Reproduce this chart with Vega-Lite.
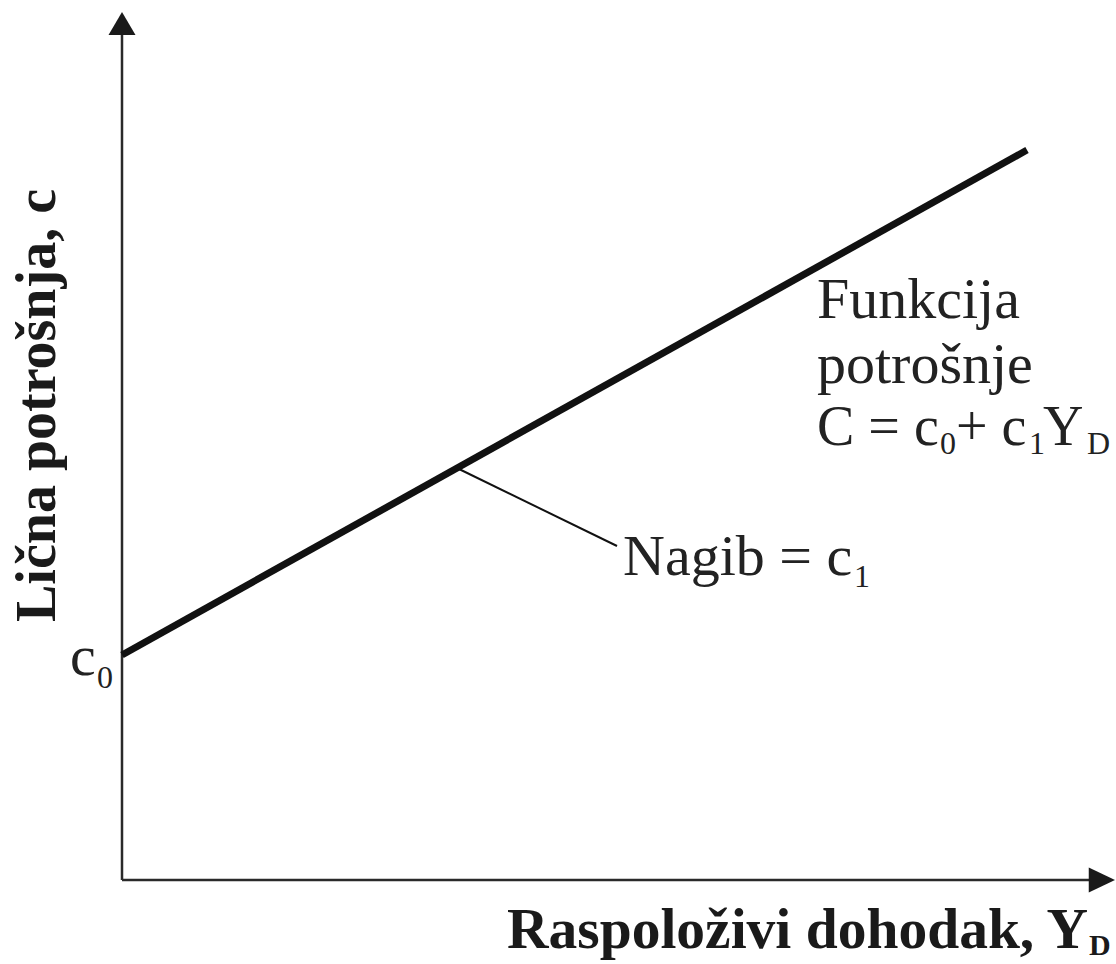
{
  "$schema": "https://vega.github.io/schema/vega-lite/v6.json",
  "width": 1116,
  "height": 964,
  "autosize": {"type": "none"},
  "padding": 0,
  "background": "white",
  "view": {"stroke": null},
  "config": {"font": "Times New Roman"},
  "datasets": {
    "axes": [
      {"axis": "vertical", "x": 0, "y": 0, "x2": 0, "y2": 84.5},
      {"axis": "horizontal", "x": 0, "y": 0, "x2": 96.8, "y2": 0}
    ],
    "arrowUp": [{"x": 0, "y": 86.8}],
    "arrowRight": [{"x": 99.3, "y": 0}],
    "consumption": [
      {"x": 0, "y": 22.5},
      {"x": 90.5, "y": 73.0}
    ],
    "leader": [{"x": 33.7, "y": 41.1, "x2": 49.5, "y2": 33.4}],
    "labels": [
      {"label": "Funkcija", "x": 69.5, "y": 56.2},
      {"label": "potrošnje", "x": 69.5, "y": 49.7},
      {"label": "Nagib = c", "x": 50.1, "y": 30.5},
      {"label": "c", "x": -5.2, "y": 20.5}
    ],
    "formula": [
      {"label": "C = c", "x": 69.5, "y": 43.5},
      {"label": "+ c", "x": 83.4, "y": 43.5},
      {"label": "Y", "x": 92.1, "y": 43.5}
    ],
    "subs": [
      {"label": "0", "x": 81.8, "y": 42.6},
      {"label": "1", "x": 90.7, "y": 42.6},
      {"label": "D", "x": 96.5, "y": 42.6},
      {"label": "1", "x": 73.2, "y": 29.3},
      {"label": "0", "x": -2.5, "y": 19.2}
    ],
    "xtitle": [{"label": "Raspoloživi dohodak, Y", "x": 38.5, "y": -6.8}],
    "xtitleSub": [{"label": "D", "x": 96.7, "y": -7.5}],
    "ytitle": [{"label": "Lična potrošnja, c", "x": -6.7, "y": 25.8}]
  },
  "layer": [
    {
      "data": {"name": "axes"},
      "mark": {"type": "rule", "color": "#2a2a2a", "strokeWidth": 2.5},
      "encoding": {
        "x": {"field": "x", "type": "quantitative", "scale": {"domain": [-12.2, 99.4], "nice": false, "zero": false}, "axis": null},
        "y": {"field": "y", "type": "quantitative", "scale": {"domain": [-8.4, 88], "nice": false, "zero": false}, "axis": null},
        "x2": {"field": "x2"},
        "y2": {"field": "y2"}
      }
    },
    {
      "data": {"name": "arrowUp"},
      "mark": {"type": "point", "shape": "M0,0 L-1,1.7 L1,1.7 Z", "size": 729, "filled": true, "opacity": 1, "color": "#1a1a1a", "strokeWidth": 0},
      "encoding": {
        "x": {"field": "x", "type": "quantitative", "scale": {"domain": [-12.2, 99.4], "nice": false, "zero": false}, "axis": null},
        "y": {"field": "y", "type": "quantitative", "scale": {"domain": [-8.4, 88], "nice": false, "zero": false}, "axis": null}
      }
    },
    {
      "data": {"name": "arrowRight"},
      "mark": {"type": "point", "shape": "M0,0 L-2.1,-1 L-2.1,1 Z", "size": 625, "filled": true, "opacity": 1, "color": "#1a1a1a", "strokeWidth": 0},
      "encoding": {
        "x": {"field": "x", "type": "quantitative", "scale": {"domain": [-12.2, 99.4], "nice": false, "zero": false}, "axis": null},
        "y": {"field": "y", "type": "quantitative", "scale": {"domain": [-8.4, 88], "nice": false, "zero": false}, "axis": null}
      }
    },
    {
      "data": {"name": "consumption"},
      "mark": {"type": "line", "color": "#111111", "strokeWidth": 7, "strokeCap": "butt"},
      "encoding": {
        "x": {"field": "x", "type": "quantitative", "scale": {"domain": [-12.2, 99.4], "nice": false, "zero": false}, "axis": null},
        "y": {"field": "y", "type": "quantitative", "scale": {"domain": [-8.4, 88], "nice": false, "zero": false}, "axis": null}
      }
    },
    {
      "data": {"name": "leader"},
      "mark": {"type": "rule", "color": "#111111", "strokeWidth": 2},
      "encoding": {
        "x": {"field": "x", "type": "quantitative", "scale": {"domain": [-12.2, 99.4], "nice": false, "zero": false}, "axis": null},
        "y": {"field": "y", "type": "quantitative", "scale": {"domain": [-8.4, 88], "nice": false, "zero": false}, "axis": null},
        "x2": {"field": "x2"},
        "y2": {"field": "y2"}
      }
    },
    {
      "data": {"name": "labels"},
      "mark": {"type": "text", "font": "Times New Roman", "fontSize": 58, "align": "left", "baseline": "alphabetic", "color": "#222222"},
      "encoding": {
        "x": {"field": "x", "type": "quantitative", "scale": {"domain": [-12.2, 99.4], "nice": false, "zero": false}, "axis": null},
        "y": {"field": "y", "type": "quantitative", "scale": {"domain": [-8.4, 88], "nice": false, "zero": false}, "axis": null},
        "text": {"field": "label"}
      }
    },
    {
      "data": {"name": "formula"},
      "mark": {"type": "text", "font": "Times New Roman", "fontSize": 56, "align": "left", "baseline": "alphabetic", "color": "#222222"},
      "encoding": {
        "x": {"field": "x", "type": "quantitative", "scale": {"domain": [-12.2, 99.4], "nice": false, "zero": false}, "axis": null},
        "y": {"field": "y", "type": "quantitative", "scale": {"domain": [-8.4, 88], "nice": false, "zero": false}, "axis": null},
        "text": {"field": "label"}
      }
    },
    {
      "data": {"name": "subs"},
      "mark": {"type": "text", "font": "Times New Roman", "fontSize": 32, "align": "left", "baseline": "alphabetic", "color": "#222222"},
      "encoding": {
        "x": {"field": "x", "type": "quantitative", "scale": {"domain": [-12.2, 99.4], "nice": false, "zero": false}, "axis": null},
        "y": {"field": "y", "type": "quantitative", "scale": {"domain": [-8.4, 88], "nice": false, "zero": false}, "axis": null},
        "text": {"field": "label"}
      }
    },
    {
      "data": {"name": "xtitle"},
      "mark": {"type": "text", "font": "Times New Roman", "fontSize": 57.5, "fontWeight": "bold", "align": "left", "baseline": "alphabetic", "color": "#1a1a1a"},
      "encoding": {
        "x": {"field": "x", "type": "quantitative", "scale": {"domain": [-12.2, 99.4], "nice": false, "zero": false}, "axis": null},
        "y": {"field": "y", "type": "quantitative", "scale": {"domain": [-8.4, 88], "nice": false, "zero": false}, "axis": null},
        "text": {"field": "label"}
      }
    },
    {
      "data": {"name": "xtitleSub"},
      "mark": {"type": "text", "font": "Times New Roman", "fontSize": 30, "fontWeight": "bold", "align": "left", "baseline": "alphabetic", "color": "#1a1a1a"},
      "encoding": {
        "x": {"field": "x", "type": "quantitative", "scale": {"domain": [-12.2, 99.4], "nice": false, "zero": false}, "axis": null},
        "y": {"field": "y", "type": "quantitative", "scale": {"domain": [-8.4, 88], "nice": false, "zero": false}, "axis": null},
        "text": {"field": "label"}
      }
    },
    {
      "data": {"name": "ytitle"},
      "mark": {"type": "text", "font": "Times New Roman", "fontSize": 56, "fontWeight": "bold", "align": "left", "baseline": "alphabetic", "angle": 270, "color": "#1a1a1a"},
      "encoding": {
        "x": {"field": "x", "type": "quantitative", "scale": {"domain": [-12.2, 99.4], "nice": false, "zero": false}, "axis": null},
        "y": {"field": "y", "type": "quantitative", "scale": {"domain": [-8.4, 88], "nice": false, "zero": false}, "axis": null},
        "text": {"field": "label"}
      }
    }
  ]
}
